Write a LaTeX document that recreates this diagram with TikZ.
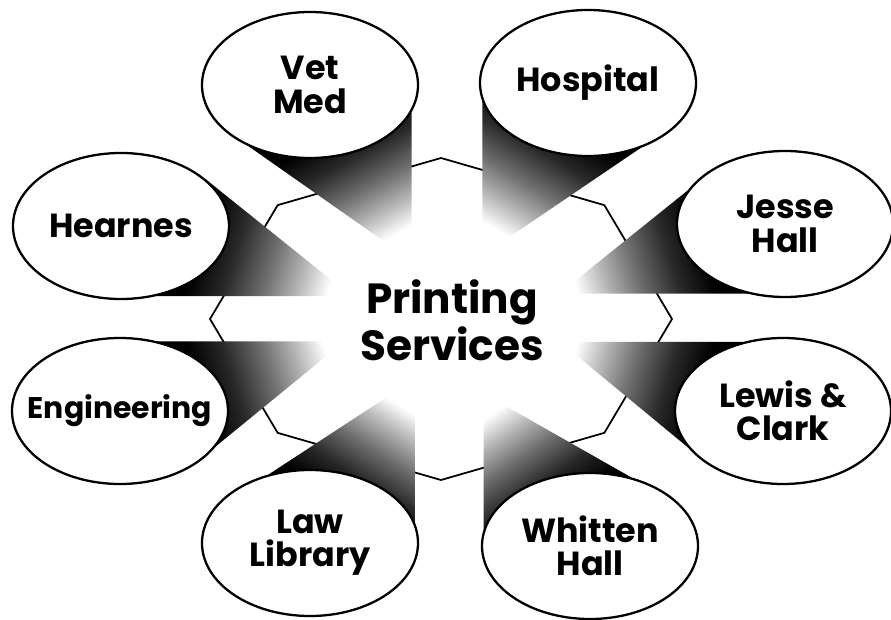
\documentclass[tikz,border=0pt]{standalone}
\usepackage{fontspec}
\setmainfont{Poppins}
\usetikzlibrary{shapes.geometric,backgrounds}

\pgfdeclarehorizontalshading{beam}{100bp}{color(0bp)=(black); color(37bp)=(black); color(48bp)=(black!84); color(60bp)=(black!56); color(70bp)=(black!28); color(79bp)=(white); color(100bp)=(white)}

\begin{document}
\begin{tikzpicture}[
  site/.style={draw,ellipse,line width=1.3pt,fill=white,inner xsep=-0.6cm,inner ysep=0pt,
    minimum width=4.32cm,minimum height=2.92cm,align=center,
    font=\bfseries\fontsize{19}{19}\selectfont},
  beam/.style={shading=beam,shading angle=#1}]
\useasboundingbox (0,0) rectangle (17.82,12.38);

\node[site] (vet) at (6.20,10.68) {Vet\\Med};
\node[site] (hosp) at (11.76,10.72) {Hospital};
\node[site] (hear) at (2.42,7.86) {Hearnes};
\node[site,font=\bfseries\fontsize{17}{19}\selectfont] (eng) at (2.40,4.16) {Engineering};
\node[site] (jesse) at (15.70,7.90) {Jesse\\Hall};
\node[site] (lewis) at (15.66,4.16) {Lewis \&\\Clark};
\node[site] (law) at (6.20,1.52) {Law\\Library};
\node[site] (whit) at (11.80,1.46) {Whitten\\Hall};
\node[font=\bfseries\fontsize{24}{25.5}\selectfont,align=center] (ps) at (9.04,5.98) {Printing\\Services};

% tips of the beams
\coordinate (vt) at (7.70,7.54);
\coordinate (ht) at (10.10,7.58);
\coordinate (het) at (6.70,6.72);
\coordinate (et) at (6.60,5.32);
\coordinate (jt) at (11.40,6.68);
\coordinate (lt) at (11.40,5.38);
\coordinate (lat) at (7.74,4.44);
\coordinate (wt) at (9.90,4.38);

\begin{pgfonlayer}{background}
\draw[line width=1pt,shift={(8.82,6.00)}] (0:4.62 and 3.22)
  \foreach \a in {45,90,...,315} {-- (\a:4.62 and 3.22)} -- cycle;
\shade[beam=-61] (vet.225) -- (vt) -- (vet.345 |- vt) -- (vet.345) -- cycle;
\shade[beam=-121] (hosp.309) -- (ht) -- (hosp.190 |- ht) -- (hosp.190) -- cycle;
\shade[beam=-17] (hear.29) -- (het) -- (hear.297 -| het) -- (hear.297) -- cycle;
\shade[beam=17] (eng.340) -- (et) -- (eng.62 -| et) -- (eng.62) -- cycle;
\shade[beam=-163] (jesse.161) -- (jt) -- (jesse.242 -| jt) -- (jesse.242) -- cycle;
\shade[beam=163] (lewis.201) -- (lt) -- (lewis.120 -| lt) -- (lewis.120) -- cycle;
\shade[beam=58] (law.121) -- (lat) -- (law.11 |- lat) -- (law.11) -- cycle;
\shade[beam=124] (whit.59) -- (wt) -- (whit.171 |- wt) -- (whit.171) -- cycle;
\end{pgfonlayer}
\end{tikzpicture}
\end{document}
